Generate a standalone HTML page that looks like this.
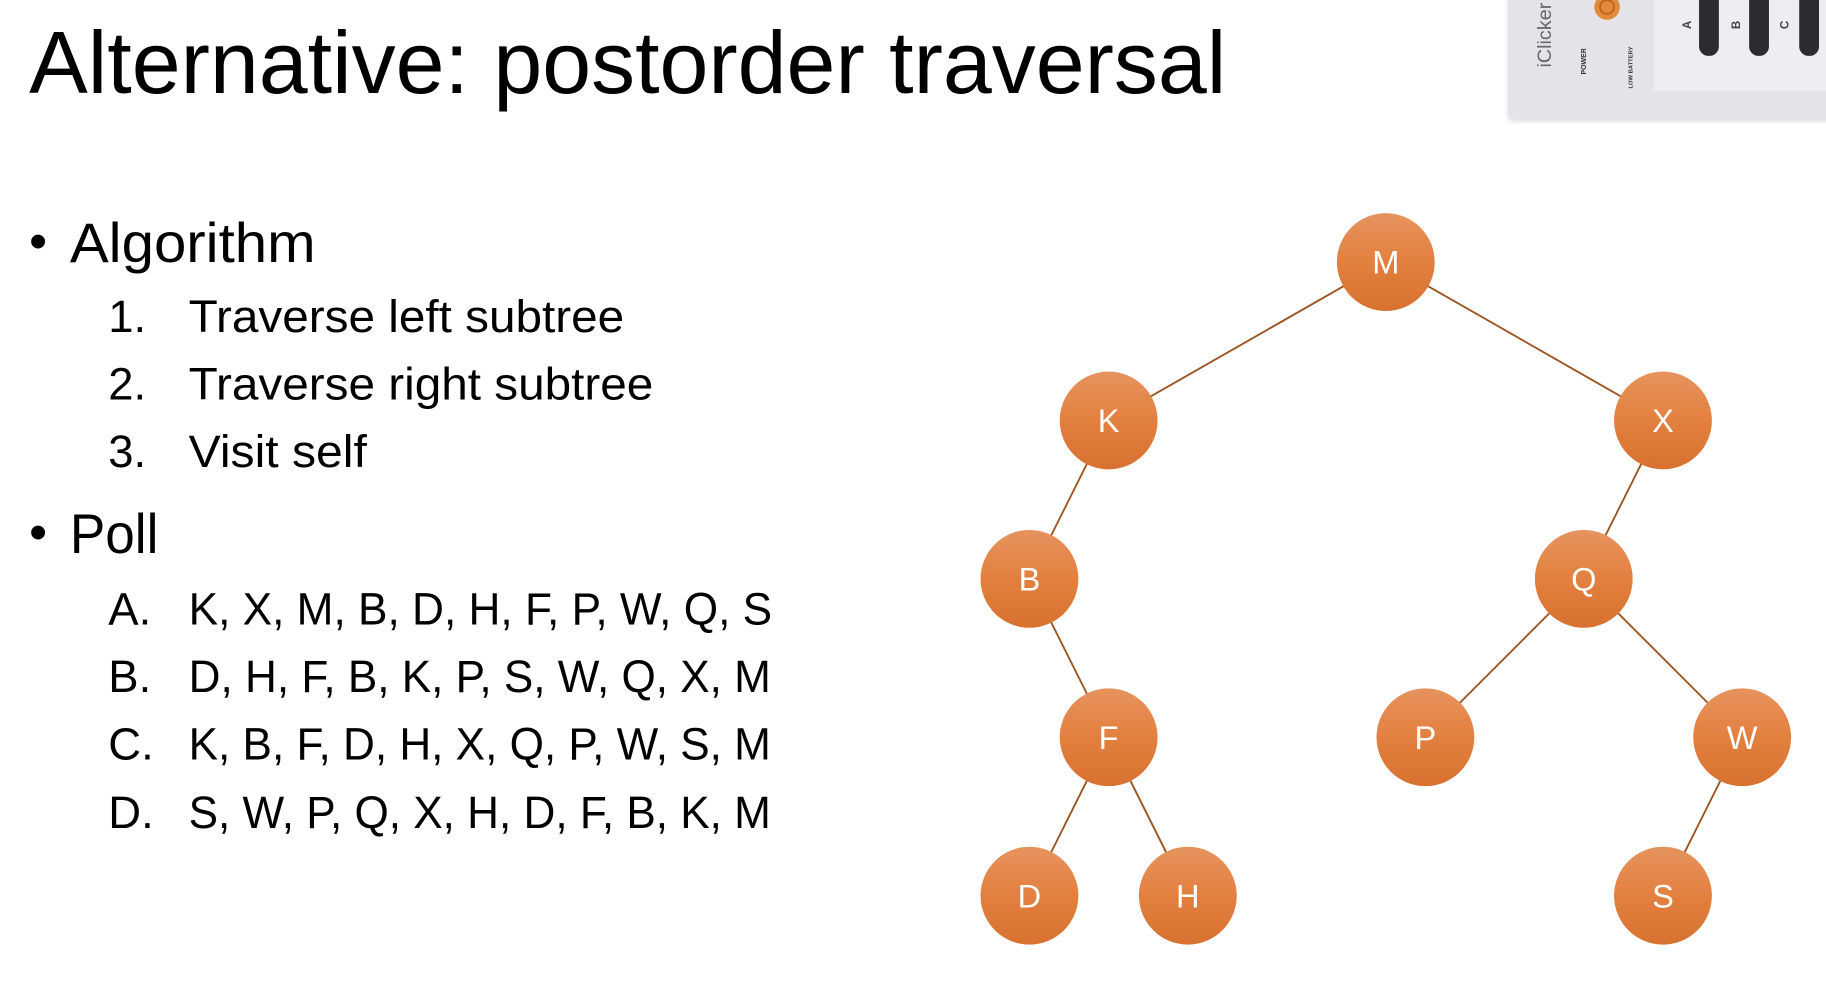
<!DOCTYPE html>
<html><head><meta charset="utf-8"><style>
html,body{margin:0;padding:0;background:#fff;width:1826px;height:990px;overflow:hidden}
svg{display:block}
text{font-family:"Liberation Sans",sans-serif;fill:#000}
</style></head><body>
<svg width="1826" height="990" viewBox="0 0 1568 850" preserveAspectRatio="none" xmlns="http://www.w3.org/2000/svg">
<defs>
<linearGradient id="g" x1="0" y1="0" x2="0" y2="1">
<stop offset="0" stop-color="#e6935f"/><stop offset="0.5" stop-color="#e3803f"/><stop offset="1" stop-color="#d87130"/>
</linearGradient>
<filter id="sh" x="-10%" y="-10%" width="120%" height="130%"><feDropShadow dx="0" dy="2" stdDeviation="2" flood-color="#000" flood-opacity="0.15"/></filter>
</defs>
<!-- clicker -->
<rect x="1295" y="-10" width="290" height="112" rx="4" fill="#e4e3e8" filter="url(#sh)"/>
<rect x="1420" y="-10" width="160" height="88" fill="#eeedf1"/>
<text transform="translate(1332,58) rotate(-90)" font-size="17" fill="#666" style="fill:#666">iClicker</text>
<circle cx="1380" cy="6" r="11" fill="#e08a3a"/>
<circle cx="1380" cy="6" r="6" fill="none" stroke="#c0601f" stroke-width="1.5"/>
<text transform="translate(1362,64) rotate(-90)" font-size="6" style="fill:#333;font-weight:bold">POWER</text>
<text transform="translate(1402,76) rotate(-90)" font-size="5" style="fill:#333;font-weight:bold">LOW BATTERY</text>
<rect x="1459" y="-10" width="17" height="58" rx="8" fill="#2c2c2e"/>
<rect x="1502" y="-10" width="17" height="58" rx="8" fill="#2c2c2e"/>
<rect x="1545" y="-10" width="17" height="58" rx="8" fill="#2c2c2e"/>
<text transform="translate(1452,25) rotate(-90)" font-size="10" style="fill:#444;font-weight:bold">A</text>
<text transform="translate(1494,25) rotate(-90)" font-size="10" style="fill:#444;font-weight:bold">B</text>
<text transform="translate(1536,25) rotate(-90)" font-size="10" style="fill:#444;font-weight:bold">C</text>
<!-- text -->
<text x="25" y="80" font-size="76" textLength="1028" lengthAdjust="spacingAndGlyphs">Alternative: postorder traversal</text>
<text x="25" y="222" font-size="44">•</text>
<text x="60" y="225" font-size="48" textLength="211" lengthAdjust="spacingAndGlyphs">Algorithm</text>
<text x="93" y="285" font-size="39">1.</text>
<text x="162" y="285" font-size="39" textLength="374" lengthAdjust="spacingAndGlyphs">Traverse left subtree</text>
<text x="93" y="343" font-size="39">2.</text>
<text x="162" y="343" font-size="39" textLength="399" lengthAdjust="spacingAndGlyphs">Traverse right subtree</text>
<text x="93" y="401" font-size="39">3.</text>
<text x="162" y="401" font-size="39" textLength="153" lengthAdjust="spacingAndGlyphs">Visit self</text>
<text x="25" y="472" font-size="44">•</text>
<text x="60" y="475" font-size="48" textLength="76" lengthAdjust="spacingAndGlyphs">Poll</text>
<text x="93" y="536" font-size="39">A.</text>
<text x="162" y="536" font-size="39" textLength="501" lengthAdjust="spacingAndGlyphs">K, X, M, B, D, H, F, P, W, Q, S</text>
<text x="93" y="594" font-size="39">B.</text>
<text x="162" y="594" font-size="39" textLength="500" lengthAdjust="spacingAndGlyphs">D, H, F, B, K, P, S, W, Q, X, M</text>
<text x="93" y="652" font-size="39">C.</text>
<text x="162" y="652" font-size="39" textLength="500" lengthAdjust="spacingAndGlyphs">K, B, F, D, H, X, Q, P, W, S, M</text>
<text x="93" y="711" font-size="39">D.</text>
<text x="162" y="711" font-size="39" textLength="500" lengthAdjust="spacingAndGlyphs">S, W, P, Q, X, H, D, F, B, K, M</text>
<!-- edges -->
<g stroke="#9c5422" stroke-width="1.6">
<line x1="1190" y1="225" x2="952" y2="361"/>
<line x1="1190" y1="225" x2="1428" y2="361"/>
<line x1="952" y1="361" x2="884" y2="497"/>
<line x1="1428" y1="361" x2="1360" y2="497"/>
<line x1="884" y1="497" x2="952" y2="633"/>
<line x1="1360" y1="497" x2="1224" y2="633"/>
<line x1="1360" y1="497" x2="1496" y2="633"/>
<line x1="952" y1="633" x2="884" y2="769"/>
<line x1="952" y1="633" x2="1020" y2="769"/>
<line x1="1496" y1="633" x2="1428" y2="769"/>
</g>
<g fill="url(#g)">
<circle cx="1190" cy="225" r="42"/><circle cx="952" cy="361" r="42"/><circle cx="1428" cy="361" r="42"/>
<circle cx="884" cy="497" r="42"/><circle cx="1360" cy="497" r="42"/><circle cx="952" cy="633" r="42"/>
<circle cx="1224" cy="633" r="42"/><circle cx="1496" cy="633" r="42"/><circle cx="884" cy="769" r="42"/>
<circle cx="1020" cy="769" r="42"/><circle cx="1428" cy="769" r="42"/>
</g>
<g font-size="28" text-anchor="middle" style="fill:#fff">
<text x="1190" y="235" style="fill:#fff">M</text>
<text x="952" y="371" style="fill:#fff">K</text>
<text x="1428" y="371" style="fill:#fff">X</text>
<text x="884" y="507" style="fill:#fff">B</text>
<text x="1360" y="507" style="fill:#fff">Q</text>
<text x="952" y="643" style="fill:#fff">F</text>
<text x="1224" y="643" style="fill:#fff">P</text>
<text x="1496" y="643" style="fill:#fff">W</text>
<text x="884" y="779" style="fill:#fff">D</text>
<text x="1020" y="779" style="fill:#fff">H</text>
<text x="1428" y="779" style="fill:#fff">S</text>
</g>
</svg>
</body></html>
